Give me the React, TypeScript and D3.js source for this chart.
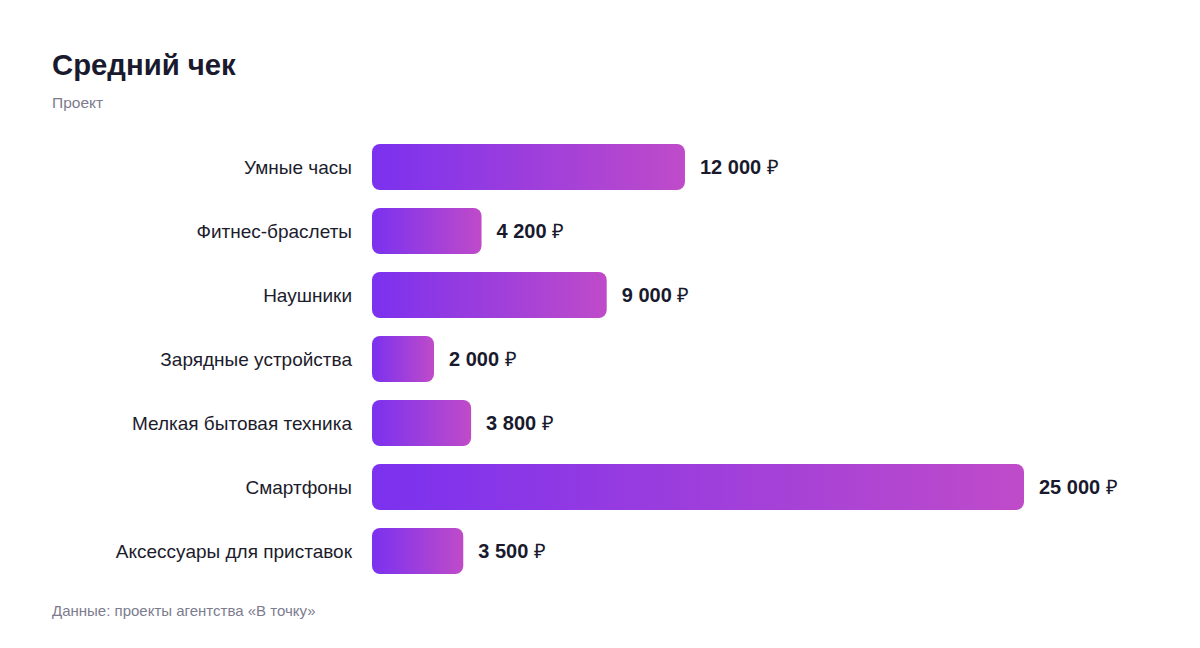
import React, { useEffect, useRef } from 'react';
import * as d3 from 'd3';

const categories = [
  'Умные часы',
  'Фитнес-браслеты',
  'Наушники',
  'Зарядные устройства',
  'Мелкая бытовая техника',
  'Смартфоны',
  'Аксессуары для приставок',
];
const values = [12000, 4200, 9000, 2000, 3800, 25000, 3500];

const title = 'Средний чек';
const subtitle = 'Проект';
const source = 'Данные: проекты агентства «В точку»';

const App: React.FC = () => {
  const svgRef = useRef<SVGSVGElement>(null);

  useEffect(() => {
    if (!svgRef.current) return;
    const svg = d3.select(svgRef.current);
    svg.selectAll('*').remove();

    const font = '"Liberation Sans", Arial, Helvetica, sans-serif';
    const locale = d3.formatLocale({ decimal: ',', thousands: '\u00a0', grouping: [3], currency: ['', ' ₽'] });
    const fmt = locale.format(',d');

    const data = categories.map((c, i) => ({ name: c, value: values[i] }));

    const x = d3.scaleLinear().domain([0, d3.max(values) as number]).range([372, 1024]);
    const y = d3.scaleBand().domain(categories).range([135, 583]).paddingInner(0.28).paddingOuter(0.14);
    const minW = 62; // short bars keep a minimum width
    const barW = (v: number) => Math.max(x(v) - x(0), minW);

    const defs = svg.append('defs');
    const grad = defs.append('linearGradient').attr('id', 'barGrad').attr('x1', '0').attr('x2', '1').attr('y1', '0').attr('y2', '0');
    grad.append('stop').attr('offset', '0%').attr('stop-color', '#7b31ef');
    grad.append('stop').attr('offset', '100%').attr('stop-color', '#bf4bc9');

    // Header
    svg.append('text').attr('x', 52).attr('y', 75)
      .attr('font-family', font).attr('font-size', 29.3).attr('font-weight', 700)
      .attr('fill', '#1a1a2e').text(title);
    svg.append('text').attr('x', 52).attr('y', 108)
      .attr('font-family', font).attr('font-size', 15.5)
      .attr('fill', '#7c7c8e').text(subtitle);

    const rows = svg.append('g').selectAll('g').data(data).enter().append('g');

    rows.append('rect')
      .attr('x', x(0))
      .attr('y', d => y(d.name) || 0)
      .attr('width', d => barW(d.value))
      .attr('height', y.bandwidth())
      .attr('rx', 8).attr('ry', 8)
      .attr('fill', 'url(#barGrad)');

    rows.append('text')
      .attr('x', 352)
      .attr('y', d => (y(d.name) || 0) + y.bandwidth() / 2)
      .attr('dy', '0.35em')
      .attr('text-anchor', 'end')
      .attr('font-family', font).attr('font-size', 19)
      .attr('fill', '#1c1c2c')
      .text(d => d.name);

    const val = rows.append('text')
      .attr('x', d => x(0) + barW(d.value) + 15)
      .attr('y', d => (y(d.name) || 0) + y.bandwidth() / 2)
      .attr('dy', '0.36em')
      .attr('font-family', font).attr('font-size', 20).attr('font-weight', 700)
      .attr('fill', '#1a1a2e');
    val.append('tspan').text(d => fmt(d.value) + '\u00a0');
    val.append('tspan').attr('font-weight', 400).text('₽');

    svg.append('text').attr('x', 52).attr('y', 616)
      .attr('font-family', font).attr('font-size', 15)
      .attr('fill', '#7c7c8e').text(source);
  }, []);

  return (
    <svg
      ref={svgRef}
      width={1200}
      height={648}
      style={{ position: 'absolute', left: 0, top: 0, background: '#fff', display: 'block' }}
    />
  );
};

export default App;
